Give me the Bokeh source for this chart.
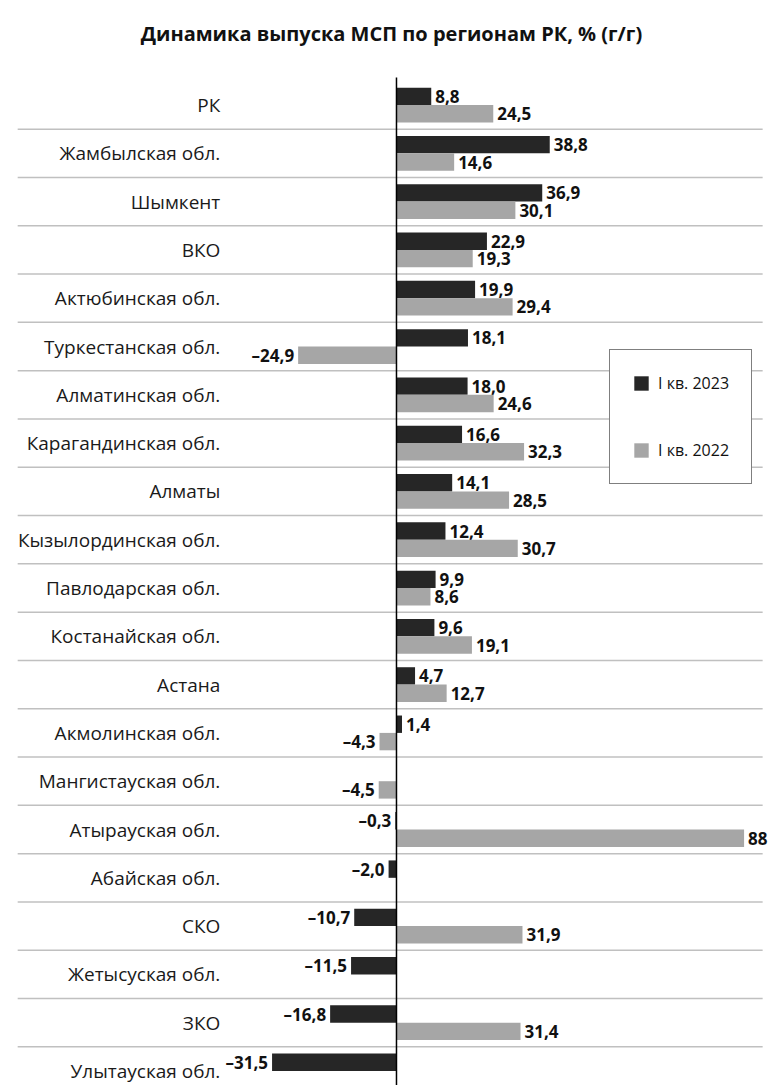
from bokeh.plotting import figure
from bokeh.models import ColumnDataSource, Legend, LegendItem, Range1d
from bokeh.embed import file_html
from bokeh.resources import INLINE
from bokeh.core.properties import value

title_text = "Динамика выпуска МСП по регионам РК, % (г/г)"
categories = ["РК", "Жамбылская обл.", "Шымкент", "ВКО", "Актюбинская обл.",
              "Туркестанская обл.", "Алматинская обл.", "Карагандинская обл.",
              "Алматы", "Кызылординская обл.", "Павлодарская обл.",
              "Костанайская обл.", "Астана", "Акмолинская обл.",
              "Мангистауская обл.", "Атырауская обл.", "Абайская обл.", "СКО",
              "Жетысуская обл.", "ЗКО", "Улытауская обл."]
q1_2023 = [8.8, 38.8, 36.9, 22.9, 19.9, 18.1, 18.0, 16.6, 14.1, 12.4, 9.9, 9.6,
           4.7, 1.4, None, -0.3, -2.0, -10.7, -11.5, -16.8, -31.5]
q1_2022 = [24.5, 14.6, 30.1, 19.3, 29.4, -24.9, 24.6, 32.3, 28.5, 30.7, 8.6, 19.1,
           12.7, -4.3, -4.5, 88, None, 31.9, None, 31.4, None]
series_names = ["I кв. 2023", "I кв. 2022"]
colors = ["#262626", "#a6a6a6"]

FONT = "Open Sans"
BAR_H = 0.36
W, H = 780, 1085
Y_TOP, Y_BOT = -2.164, 20.3   # plot extends above first row to hold the title


def fmt(v):
    s = str(abs(v)) if isinstance(v, int) else f"{abs(v):.1f}".replace(".", ",")
    return ("\u2013" + s) if v < 0 else s


p = figure(width=W, height=H, output_backend="svg", toolbar_location=None,
           x_range=Range1d(-100.25, 97.22), y_range=Range1d(Y_BOT, Y_TOP),
           min_border=0)
p.axis.visible = False
p.grid.visible = False
p.outline_line_color = None

n = len(categories)

# title
p.text(x=[-1.27], y=[-1.48], text=[title_text], text_align="center",
       text_baseline="middle", text_font=value(FONT), text_font_style="bold",
       text_font_size="20px", text_color="#111111")

# separators
p.segment(x0=[-95.9] * (n - 1), x1=[92.7] * (n - 1),
          y0=[i + 0.5 for i in range(n - 1)], y1=[i + 0.5 for i in range(n - 1)],
          line_color="#c0c0c0", line_width=1.5)

renderers = []
for k, (vals, off) in enumerate([(q1_2023, -BAR_H / 2), (q1_2022, BAR_H / 2)]):
    ys, vs, labs, xo, al = [], [], [], [], []
    for i, v in enumerate(vals):
        if v is None:
            continue
        ys.append(i + off)
        vs.append(v)
        labs.append(fmt(v))
        xo.append(4 if v >= 0 else -4)
        al.append("left" if v >= 0 else "right")
    src = ColumnDataSource(dict(y=ys, v=vs, lab=labs, xo=xo, al=al))
    r = p.hbar(y="y", left=0, right="v", height=BAR_H, source=src,
               fill_color=colors[k], line_color=None)
    renderers.append(r)
    p.text(x="v", y="y", text="lab", x_offset="xo", text_align="al",
           text_baseline="middle", text_font=value(FONT), text_font_style="bold",
           text_font_size="17px", text_color="#111111", source=src)

# category labels
p.text(x=[-44.6] * n, y=list(range(n)), text=categories, text_align="right",
       text_baseline="middle", text_font=value(FONT), text_font_size="19px",
       text_color="#1a1a1a")

# zero line
p.segment(x0=[0], x1=[0], y0=[-0.57], y1=[Y_BOT + 1], line_color="#000000",
          line_width=1.5)

legend = Legend(items=[LegendItem(label=series_names[i], renderers=[renderers[i]])
                       for i in range(2)],
                location=(609, 601), padding=22, spacing=45,
                glyph_width=18, glyph_height=18, label_height=18,
                label_standoff=8, label_text_font=FONT,
                label_text_font_size="16px", label_text_color="#111111",
                border_line_color="#000000", border_line_width=1,
                background_fill_color="#ffffff", background_fill_alpha=1.0)
p.add_layout(legend)

open("out.html", "w").write(file_html(p, INLINE))
